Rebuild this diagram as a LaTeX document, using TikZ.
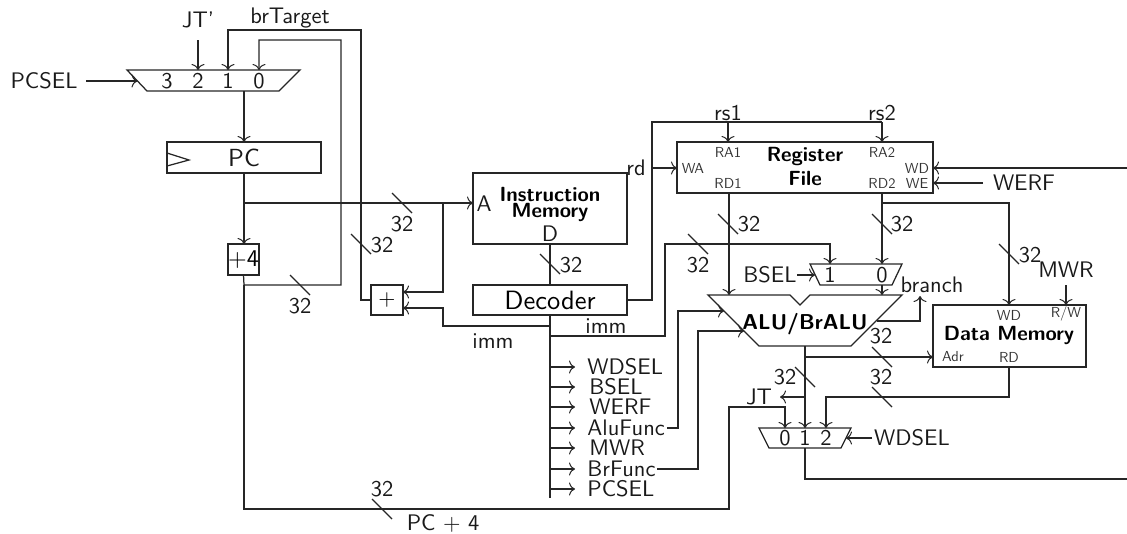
\documentclass[tikz,border=0pt]{standalone}
\usetikzlibrary{arrows.meta}
\newcommand\busmark[2]{\draw[wire] (#1,#2) -- ++(20,20);}
\tikzset{
  wire/.style={line width=1.25pt,draw=black!85,line join=miter},
  arr/.style={wire,-{Computer Modern Rightarrow[length=6pt,width=13pt,line width=1pt]}},
  box/.style={draw=black!85,line width=1.25pt,inner sep=0pt,outer sep=0pt,fill=none},
  txt/.style={inner sep=0pt,font=\sffamily,scale=2.25,transform shape,text=black!90},
  num/.style={txt},
  small/.style={inner sep=0pt,font=\sffamily,scale=1.45,transform shape,text=black!80},
  bold/.style={inner sep=0pt,font=\sffamily\bfseries,scale=2.05,transform shape},
  sig/.style={txt,anchor=west,text height=6.94pt,text depth=0pt},
}
\begin{document}
\begin{tikzpicture}[x=1pt,y=-1pt]
\useasboundingbox (0,0) rectangle (1127,533);
% blocks
\node[box,minimum width=154pt,minimum height=31pt] (pc) at (244,157.5) {};
\node[box,minimum width=31pt,minimum height=31pt] (plusfour) at (243.5,259.5) {\sffamily\scalebox{2.4}{+4}};
\node[box,minimum width=32pt,minimum height=30pt] (adder) at (387,300) {\sffamily\scalebox{2.2}{+}};
\node[box,minimum width=154pt,minimum height=71pt] (imem) at (550,208.5) {};
\node[box,minimum width=154pt,minimum height=30pt] (dec) at (550,300) {\sffamily\scalebox{2.65}{Decoder}};
\node[box,minimum width=256pt,minimum height=51pt] (rf) at (805,167.5) {};
\node[box,minimum width=153pt,minimum height=62pt] (dm) at (1009.5,336) {};
\draw[box] (pc.west |- 0,153) -- (189,160) -- (pc.west |- 0,166);
% multiplexers and ALU
\draw[box] (127,70) coordinate (mpcTL) -- (300,70) -- (279,91) -- (147,91) -- cycle;
\draw[box] (810,264) -- (902,264) -- (892,285) -- (820,285) -- cycle;
\draw[box] (759,428) -- (851,428) -- (841,448) -- (769,448) -- cycle;
\draw[box] (708,295) -- (790,295) -- (800,305) -- (810,295) -- (902,295) -- (851,346) -- (759,346) -- cycle;
% port coordinates
\coordinate (pc3) at (167,70); \coordinate (pc2) at (198,70); \coordinate (pc1) at (228,70); \coordinate (pc0) at (259,70);
\coordinate (pcmo) at (244,91); \coordinate (pcsel) at (137.5,81);
\coordinate (bs1) at (830,264); \coordinate (bs0) at (882,264); \coordinate (bso) at (882,285); \coordinate (bssel) at (815,275);
\coordinate (wd0) at (785,428); \coordinate (wd1) at (805,428); \coordinate (wd2) at (826,428); \coordinate (wdo) at (805,448); \coordinate (wdsel) at (846,438);
\coordinate (alua) at (729,295); \coordinate (alub) at (882,295); \coordinate (aluo) at (805,346);
\coordinate (alufn) at (724,311); \coordinate (brfn) at (744,331); \coordinate (alubr) at (877,321);
\coordinate (ra1) at (728,142); \coordinate (ra2) at (882,142); \coordinate (rd1) at (729,193); \coordinate (rd2) at (882,193);
\coordinate (wa) at (677,168); \coordinate (wdp) at (933,168); \coordinate (wep) at (933,183);
\coordinate (dmwd) at (1009,305); \coordinate (dmrw) at (1066,305); \coordinate (dmadr) at (933,357); \coordinate (dmrd) at (1009,367);
\coordinate (imA) at (473,203); \coordinate (addT) at (403,292); \coordinate (addB) at (403,308);
\coordinate (rEdgeWD) at (1127,168); \coordinate (rEdgeO) at (1127,479);
% wires: PC section
\draw[arr] (198,40) -- (pc2);
\draw[arr] (adder.west) -- (361,300) -- (361,30) -- (228,30) -- (pc1);
\draw[arr] (plusfour.south) -- (244,285) -- (341,285) -- (341,40) -- (259,40) -- (pc0);
\draw[arr] (86,81) -- (pcsel);
\draw[arr] (pcmo) -- (pc.north -| pcmo);
\draw[arr] (pc.south -| pcmo) -- (plusfour.north -| pcmo);
\draw[arr] (244,203) coordinate (pcbr) -- (imA);
\draw[arr] (443,203) -- (443,292) -- (addT);
\draw[arr] (244,285) -- (244,509) -- (729,509) -- (729,407) -- (785,407) -- (wd0);
% decoder
\draw[wire] (imem.south) -- (dec.north);
\draw[wire] (dec.south) -- (550,498);
\draw[arr] (550,326) -- (443,326) -- (443,308) -- (addB);
\draw[arr] (550,336) -- (665,336) -- (665,244) -- (830,244) -- (bs1);
\foreach \yy in {367,387,407,428,448,469,489} \draw[arr] (550,\yy) -- (575,\yy);
\draw[arr] (667,428) -- (678,428) -- (678,311) -- (alufn);
\draw[arr] (657,469) -- (698,469) -- (698,331) -- (brfn);
% register file
\draw[wire] (dec.east) -- (652,300) -- (652,122) -- (882,122);
\draw[arr] (652,168) -- (wa);
\draw[arr] (728,122) -- (ra1);
\draw[arr] (882,122) -- (ra2);
\draw[arr] (rEdgeWD) -- (wdp);
\draw[arr] (983,183) -- (wep);
\draw[arr] (rd1) -- (alua);
\draw[arr] (rd2) -- (bs0);
\draw[arr] (882,203) -- (1009,203) -- (dmwd);
\draw[arr] (1066,285) -- (dmrw);
\draw[arr] (797,275) -- (bssel);
\draw[arr] (bso) -- (alub);
\draw[arr] (alubr) -- (920,321) -- (920,296);
% ALU output
\draw[arr] (aluo) -- (wd1);
\draw[arr] (805,357) -- (dmadr);
\draw[arr] (805,397) -- (780,397);
\draw[arr] (dmrd) -- (1009,397) -- (826,397) -- (wd2);
\draw[arr] (872,438) -- (wdsel);
\draw[wire] (wdo) -- (805,479) -- (rEdgeO);
% bus marks
\busmark{392}{193}\busmark{351}{234}\busmark{290}{275}\busmark{372}{499}
\busmark{540}{254}\busmark{718}{214}\busmark{688}{234}\busmark{872}{214}\busmark{999}{244}
\busmark{872}{347}\busmark{872}{387}\busmark{795}{367}
% numbers
\node[num] (n1) at (402,224) {32};
\node[num] (n2) at (382,245) {32};
\node[num] (n3) at (300,306) {32};
\node[num] (n4) at (382,489) {32};
\node[num] (n5) at (571,265) {32};
\node[num] (n6) at (749,224) {32};
\node[num] (n7) at (698,265) {32};
\node[num] (n8) at (902,224) {32};
\node[num] (n9) at (1030,255) {32};
\node[num] (n10) at (881,336) {32};
\node[num] (n11) at (881,377) {32};
\node[num] (n12) at (785,377) {32};
% labels: PC section
\node[txt] (lpcsel) at (44,81) {PCSEL};
\node[txt] (ljt) at (198,20) {JT'};
\node[txt] (lbr) at (290,18) {brTarget};
\node[txt] at (167,81) (m3) {3};
\node[txt] at (198,81) (m2) {2};
\node[txt] at (228,81) (m1) {1};
\node[txt] at (259,81) (m0) {0};
\node[txt,scale=1.1] (lpc) at (244,158) {PC};
\node[txt] (lpc4) at (443,523) {PC + 4};
\node[txt] (limm1) at (493,341) {imm};
\node[txt] (limm2) at (606,326) {imm};
% imem
\node[txt] (lA) at (484,204) {A};
\node[txt] (lD) at (550,234) {D};
\node[bold] (lim1) at (550,194) {Instruction};
\node[bold] (lim2) at (550,212) {Memory};
% signals
\node[sig] (s1) at (587,367) {WDSEL};
\node[sig] (s2) at (589,387) {BSEL};
\node[sig] (s3) at (589,407) {WERF};
\node[sig] (s4) at (587,428) {AluFunc};
\node[sig] (s5) at (589,448) {MWR};
\node[sig] (s6) at (587,469) {BrFunc};
\node[sig] (s7) at (587,489) {PCSEL};
% register file labels
\node[txt] (lrd) at (636,168) {rd};
\node[txt] (lrs1) at (728,113) {rs1};
\node[txt] (lrs2) at (882,113) {rs2};
\node[small] (pRA1) at (728,152) {RA1};
\node[small] (pRD1) at (728,183) {RD1};
\node[small] (pWA) at (693,168) {WA};
\node[small] (pRA2) at (882,152) {RA2};
\node[small] (pRD2) at (882,183) {RD2};
\node[small] (pWD) at (917,168) {WD};
\node[small] (pWE) at (917,183) {WE};
\node[bold] (lrf1) at (805,156) {Register};
\node[bold] (lrf2) at (805,178) {File};
\node[txt] (lwerf) at (1024,183) {WERF};
% ALU, muxes
\node[txt] (lbsel) at (770,275) {BSEL};
\node[txt] at (830,275) (b1) {1};
\node[txt] at (882,275) (b0) {0};
\node[bold,scale=1.05] (lalu) at (805,324) {ALU/BrALU};
\node[txt] (lbranch) at (932,285) {branch};
\node[txt] (lmwr) at (1066,270) {MWR};
\node[small] (pdWD) at (1009,315) {WD};
\node[small] (pdRW) at (1066,314) {R/W};
\node[small] (pdAdr) at (953,357) {Adr};
\node[small] (pdRD) at (1009,357) {RD};
\node[bold] (ldm) at (1009,335) {Data Memory};
\node[txt] (ljtb) at (759,397) {JT};
\node[txt] at (785,438) (w0) {0};
\node[txt] at (805,438) (w1) {1};
\node[txt] at (826,438) (w2) {2};
\node[txt] (lwdsel) at (912,438) {WDSEL};
\end{tikzpicture}
\end{document}
